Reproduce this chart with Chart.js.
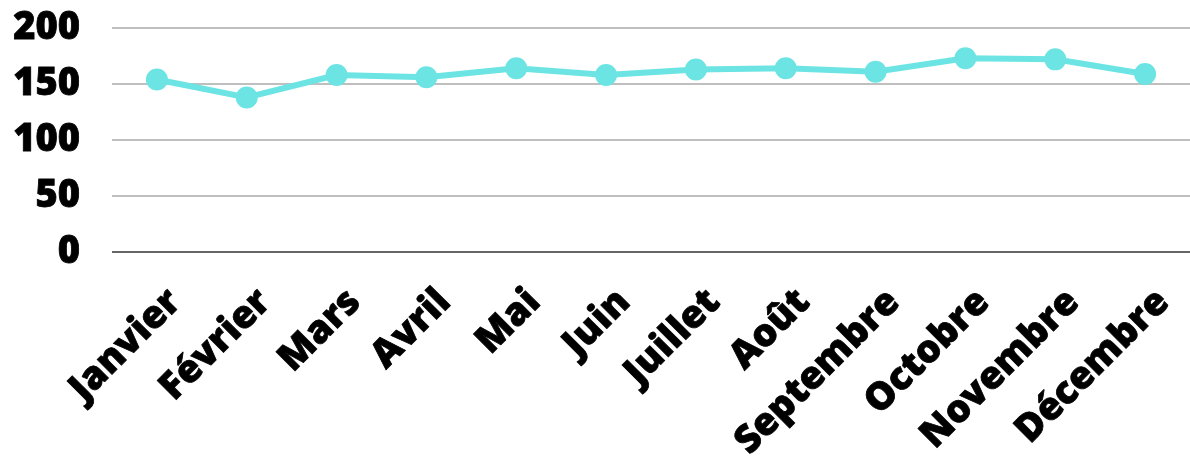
<!DOCTYPE html>
<html>
<head>
<meta charset="utf-8">
<script src="https://cdn.jsdelivr.net/npm/chart.js@4"></script>
<style>
  html, body { margin: 0; padding: 0; background: #fff; overflow: hidden; }
  canvas { display: block; }
</style>
</head>
<body>
<canvas id="myLineChart" width="1190" height="467"></canvas>
<script>
const months = ['Janvier', 'Février', 'Mars', 'Avril', 'Mai', 'Juin', 'Juillet', 'Août', 'Septembre', 'Octobre', 'Novembre', 'Décembre'];
const values = [154, 138, 158, 156, 164, 158, 163, 164, 161, 173, 172, 159];
const yTicks = [0, 50, 100, 150, 200];

const ctx = document.getElementById('myLineChart').getContext('2d');
const myLineChart = new Chart(ctx, {
    type: 'line',
    data: {
        labels: months,
        datasets: [{
            data: values,
            borderColor: '#6ce4e4',
            backgroundColor: '#6ce4e4',
            borderWidth: 6,
            pointRadius: 8,
            pointHoverRadius: 8,
            tension: 0
        }]
    },
    options: {
        responsive: false,
        animation: false,
        layout: {
            autoPadding: false,
            padding: { top: 28, right: 0, left: 0, bottom: 0 }
        },
        plugins: {
            legend: { display: false },
            tooltip: { enabled: false }
        },
        scales: {
            x: {
                offset: true,
                grid: { display: false, drawTicks: false },
                border: { display: false },
                afterFit: function(axis) {
                    axis.height = 215;
                    axis.paddingLeft = 0;
                    axis.paddingRight = 0;
                },
                ticks: {
                    color: '#000',
                    font: { family: 'Open Sans', size: 38, weight: 900 },
                    textStrokeColor: '#000',
                    textStrokeWidth: 0.8,
                    minRotation: 45,
                    maxRotation: 45,
                    padding: 28,
                    labelOffset: 18,
                    autoSkip: false
                }
            },
            y: {
                min: yTicks[0],
                max: yTicks[yTicks.length - 1],
                afterBuildTicks: function(axis) {
                    axis.ticks = yTicks.map(v => ({ value: v }));
                },
                afterFit: function(axis) {
                    axis.width = 112;
                    axis.paddingTop = 0;
                    axis.paddingBottom = 0;
                },
                grid: {
                    drawTicks: false,
                    lineWidth: 2,
                    color: function(c) {
                        return c.tick && c.tick.value === 0 ? '#666666' : '#bfbfbf';
                    }
                },
                border: { display: false },
                ticks: {
                    color: '#000',
                    font: { family: 'Open Sans', size: 38, weight: 900 },
                    textStrokeColor: '#000',
                    textStrokeWidth: 0.8,
                    padding: 32
                }
            }
        }
    }
});
</script>
</body>
</html>
